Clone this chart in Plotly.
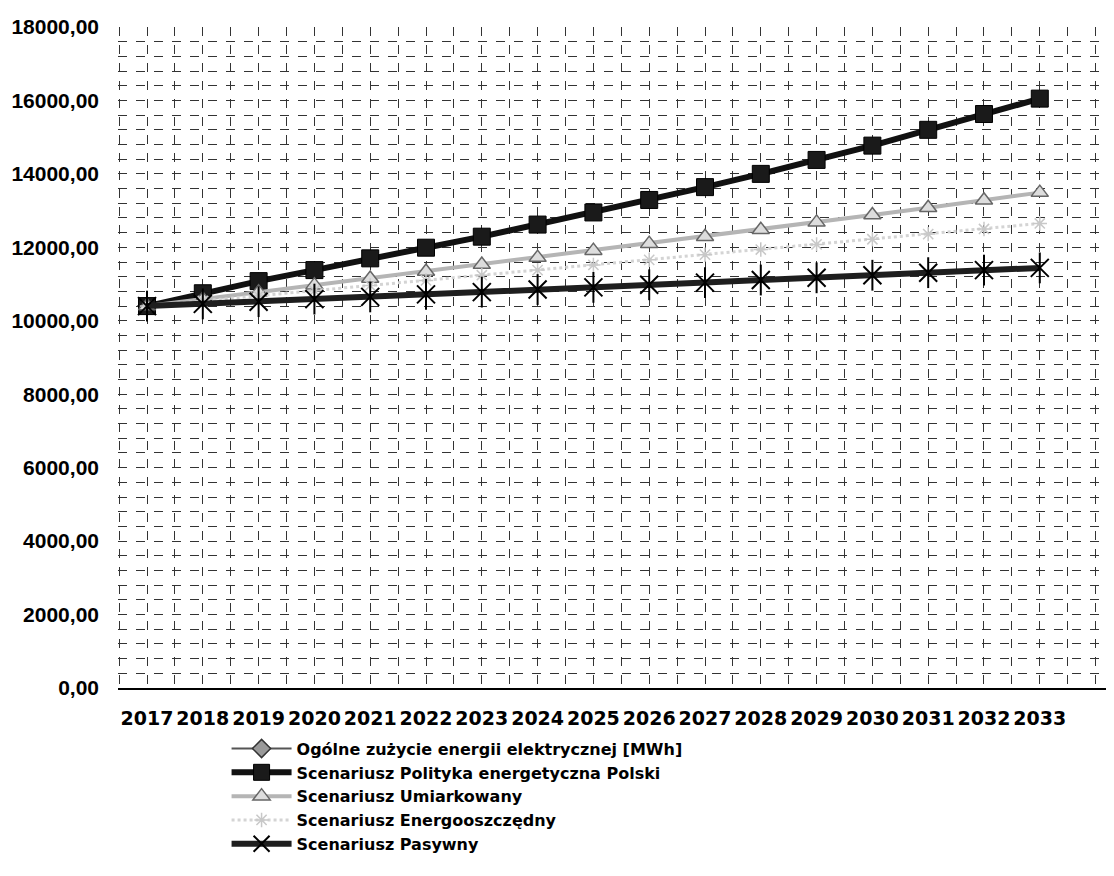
import plotly.graph_objects as go

years = list(range(2017, 2034))
ogolne_years = [2017]
ogolne = [10400]
polityka = [10400, 10750, 11080, 11380, 11700, 11990, 12290, 12620, 12950,
            13290, 13640, 14000, 14380, 14770, 15200, 15630, 16050]
umiarkowany = [10400, 10590, 10780, 10970, 11150, 11340, 11530, 11720, 11910,
               12100, 12290, 12480, 12680, 12880, 13080, 13280, 13490]
energooszczedny = [10400, 10540, 10680, 10820, 10960, 11100, 11240, 11380, 11520,
                   11660, 11800, 11940, 12080, 12220, 12360, 12500, 12650]
pasywny = [10400, 10460, 10520, 10590, 10650, 10720, 10780, 10850, 10910,
           10980, 11040, 11110, 11170, 11240, 11310, 11380, 11440]

names = ["Ogólne zużycie energii elektrycznej [MWh]",
         "Scenariusz Polityka energetyczna Polski",
         "Scenariusz Umiarkowany",
         "Scenariusz Energooszczędny",
         "Scenariusz Pasywny"]

y_ticks = [0, 2000, 4000, 6000, 8000, 10000, 12000, 14000, 16000, 18000]
y_labels = ["0,00", "2000,00", "4000,00", "6000,00", "8000,00", "10000,00",
            "12000,00", "14000,00", "16000,00", "18000,00"]

fig = go.Figure()

fig.add_trace(go.Scatter(
    x=ogolne_years, y=ogolne, name=names[0], mode="lines+markers",
    line=dict(color="#555555", width=2),
    marker=dict(symbol="diamond", size=14, color="#999999",
                line=dict(color="#333333", width=1.5))))

fig.add_trace(go.Scatter(
    x=years, y=polityka, name=names[1], mode="lines+markers",
    line=dict(color="#111111", width=6),
    marker=dict(symbol="square", size=17, color="#1a1a1a",
                line=dict(color="#000000", width=1))))

fig.add_trace(go.Scatter(
    x=years, y=umiarkowany, name=names[2], mode="lines+markers",
    line=dict(color="#b5b5b5", width=4),
    marker=dict(symbol="triangle-up", size=15, color="#dddddd",
                line=dict(color="#666666", width=1.5))))

fig.add_trace(go.Scatter(
    x=years, y=energooszczedny, name=names[3], mode="lines+markers",
    line=dict(color="#d4d4d4", width=3, dash="dot"),
    marker=dict(symbol="asterisk-open", size=12, color="#c8c8c8",
                line=dict(color="#c8c8c8", width=1.5))))

fig.add_trace(go.Scatter(
    x=years, y=pasywny, name=names[4], mode="lines+markers",
    legendgroup="pas",
    line=dict(color="#1e1e1e", width=6),
    marker=dict(symbol="x-thin-open", size=18, color="#000000",
                line=dict(color="#000000", width=2))))
fig.add_trace(go.Scatter(
    x=years, y=pasywny, mode="markers", showlegend=False, legendgroup="pas",
    hoverinfo="skip",
    marker=dict(symbol="line-ns-open", size=22, color="#000000",
                line=dict(color="#000000", width=2))))

gcol = "#333333"

fig.update_layout(
    width=1114, height=876,
    margin=dict(l=110, r=8, t=19, b=196, autoexpand=False),
    paper_bgcolor="white", plot_bgcolor="white",
    font=dict(family="DejaVu Sans", color="black"),
    showlegend=True,
    legend=dict(
        x=0.109, y=-0.066, xanchor="left", yanchor="top",
        font=dict(family="DejaVu Sans", size=16, color="black", weight="bold"),
        itemwidth=60, tracegroupgap=0,
        bgcolor="rgba(0,0,0,0)"),
)

fig.update_xaxes(
    range=[2016.48, 2034.33],
    tickmode="array", tickvals=years, ticktext=[str(y) for y in years],
    tickfont=dict(family="DejaVu Sans", size=19, color="black", weight="bold"),
    tickangle=0, ticklabelstandoff=12,
    showgrid=True, gridcolor=gcol, gridwidth=1, griddash="dash",
    minor=dict(dtick=0.5, tick0=2016.5, showgrid=True, gridcolor=gcol,
               gridwidth=1, griddash="dash"),
    showline=True, linecolor="black", linewidth=2,
    ticks="", zeroline=False, automargin=False)

fig.update_yaxes(
    range=[0, 18000],
    tickmode="array", tickvals=y_ticks, ticktext=y_labels,
    tickfont=dict(family="Liberation Sans", size=21, color="black", weight="bold"),
    showgrid=True, gridcolor=gcol, gridwidth=1, griddash="dash",
    minor=dict(dtick=400, tick0=0, showgrid=True, gridcolor=gcol,
               gridwidth=1, griddash="dash"),
    showline=False, ticks="", zeroline=False, ticklabelstandoff=18,
    automargin=False)

fig.write_html("out.html")
